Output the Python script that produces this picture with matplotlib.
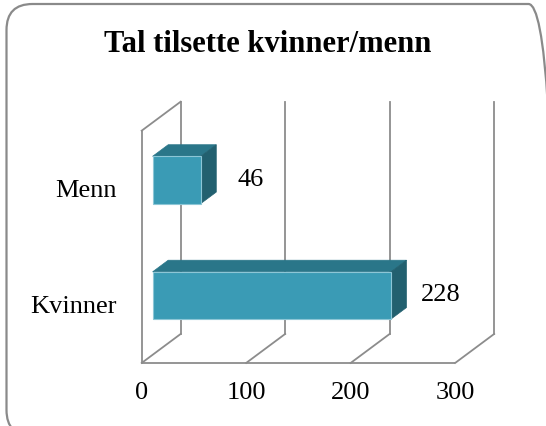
import matplotlib
matplotlib.use("Agg")
import matplotlib.pyplot as plt
from matplotlib.patches import Polygon, FancyBboxPatch

# chart data
categories = ["Kvinner", "Menn"]
values = [228, 46]
x_ticks = [0, 100, 200, 300]
title = "Tal tilsette kvinner/menn"

# colours
FRONT = "#3a9bb5"
TOP = "#2a7689"
SIDE = "#22606f"
GRID = "#8c8c8c"

# fake 3D: offset of the back wall relative to the front plane (data units)
DX, DY = 37.3, 0.251
FLOOR, CEIL = -0.584, 1.427
BAR_H = 0.41
BAR_D0, BAR_DEPTH = 0.28, 0.40

plt.rcParams["font.family"] = ["Liberation Serif", "DejaVu Serif"]

fig = plt.figure(figsize=(5.46, 4.27), dpi=100)
ax = fig.add_axes([0, 0, 1, 1])
ax.set_xlim(-135.6, 386.9)
ax.set_ylim(-1.130, 2.567)
ax.axis("off")

# rounded chart border (runs off the right/bottom edge like the original)
# drawn in inches so the corners stay round
border = FancyBboxPatch((0.065, -0.10), 5.48, 4.32,
                        boxstyle="round,pad=0,rounding_size=0.26",
                        transform=fig.dpi_scale_trans, facecolor="none",
                        edgecolor="#8a8a8a", linewidth=1.6, zorder=0)
fig.patches.append(border)

xmin, xmax = x_ticks[0], x_ticks[-1]
glw = 1.3
# front floor edge
ax.plot([xmin, xmax], [FLOOR, FLOOR], color=GRID, lw=glw, solid_capstyle="butt")
# left wall: front vertical and top diagonal
ax.plot([xmin, xmin], [FLOOR, CEIL], color=GRID, lw=glw)
ax.plot([xmin, xmin + DX], [CEIL, CEIL + DY], color=GRID, lw=glw)
for t in x_ticks:
    # floor diagonals
    ax.plot([t, t + DX], [FLOOR, FLOOR + DY], color=GRID, lw=glw)
    # back wall verticals
    ax.plot([t + DX, t + DX], [FLOOR + DY, CEIL + DY], color=GRID, lw=glw)
    ax.text(t, -0.835, str(t), ha="center", va="center", fontsize=19)

# bars
for i, (cat, v) in enumerate(zip(categories, values)):
    x0 = BAR_D0 * DX
    x1 = v + BAR_D0 * DX
    y0, y1 = i - BAR_H / 2, i + BAR_H / 2
    ox, oy = BAR_DEPTH * DX, BAR_DEPTH * DY
    top = Polygon([(x0, y1), (x1, y1), (x1 + ox, y1 + oy), (x0 + ox, y1 + oy)],
                  closed=True, facecolor=TOP, edgecolor=TOP, lw=0.5, zorder=3)
    side = Polygon([(x1, y0), (x1 + ox, y0 + oy), (x1 + ox, y1 + oy), (x1, y1)],
                   closed=True, facecolor=SIDE, edgecolor=SIDE, lw=0.5, zorder=3)
    front = Polygon([(x0, y0), (x1, y0), (x1, y1), (x0, y1)],
                    closed=True, facecolor=FRONT, edgecolor="#8cc6d6", lw=0.8, zorder=4)
    for p in (top, side, front):
        ax.add_patch(p)
    ax.text(v + 58, i + 0.01, str(v), ha="center", va="center", fontsize=19)
    ax.text(-23.6, i - 0.09, cat, ha="right", va="center", fontsize=19)

fig.text(268 / 546, 1 - 45 / 427, title, ha="center", va="center",
         fontsize=22, fontweight="bold")

fig.savefig("out.png", dpi=100)
